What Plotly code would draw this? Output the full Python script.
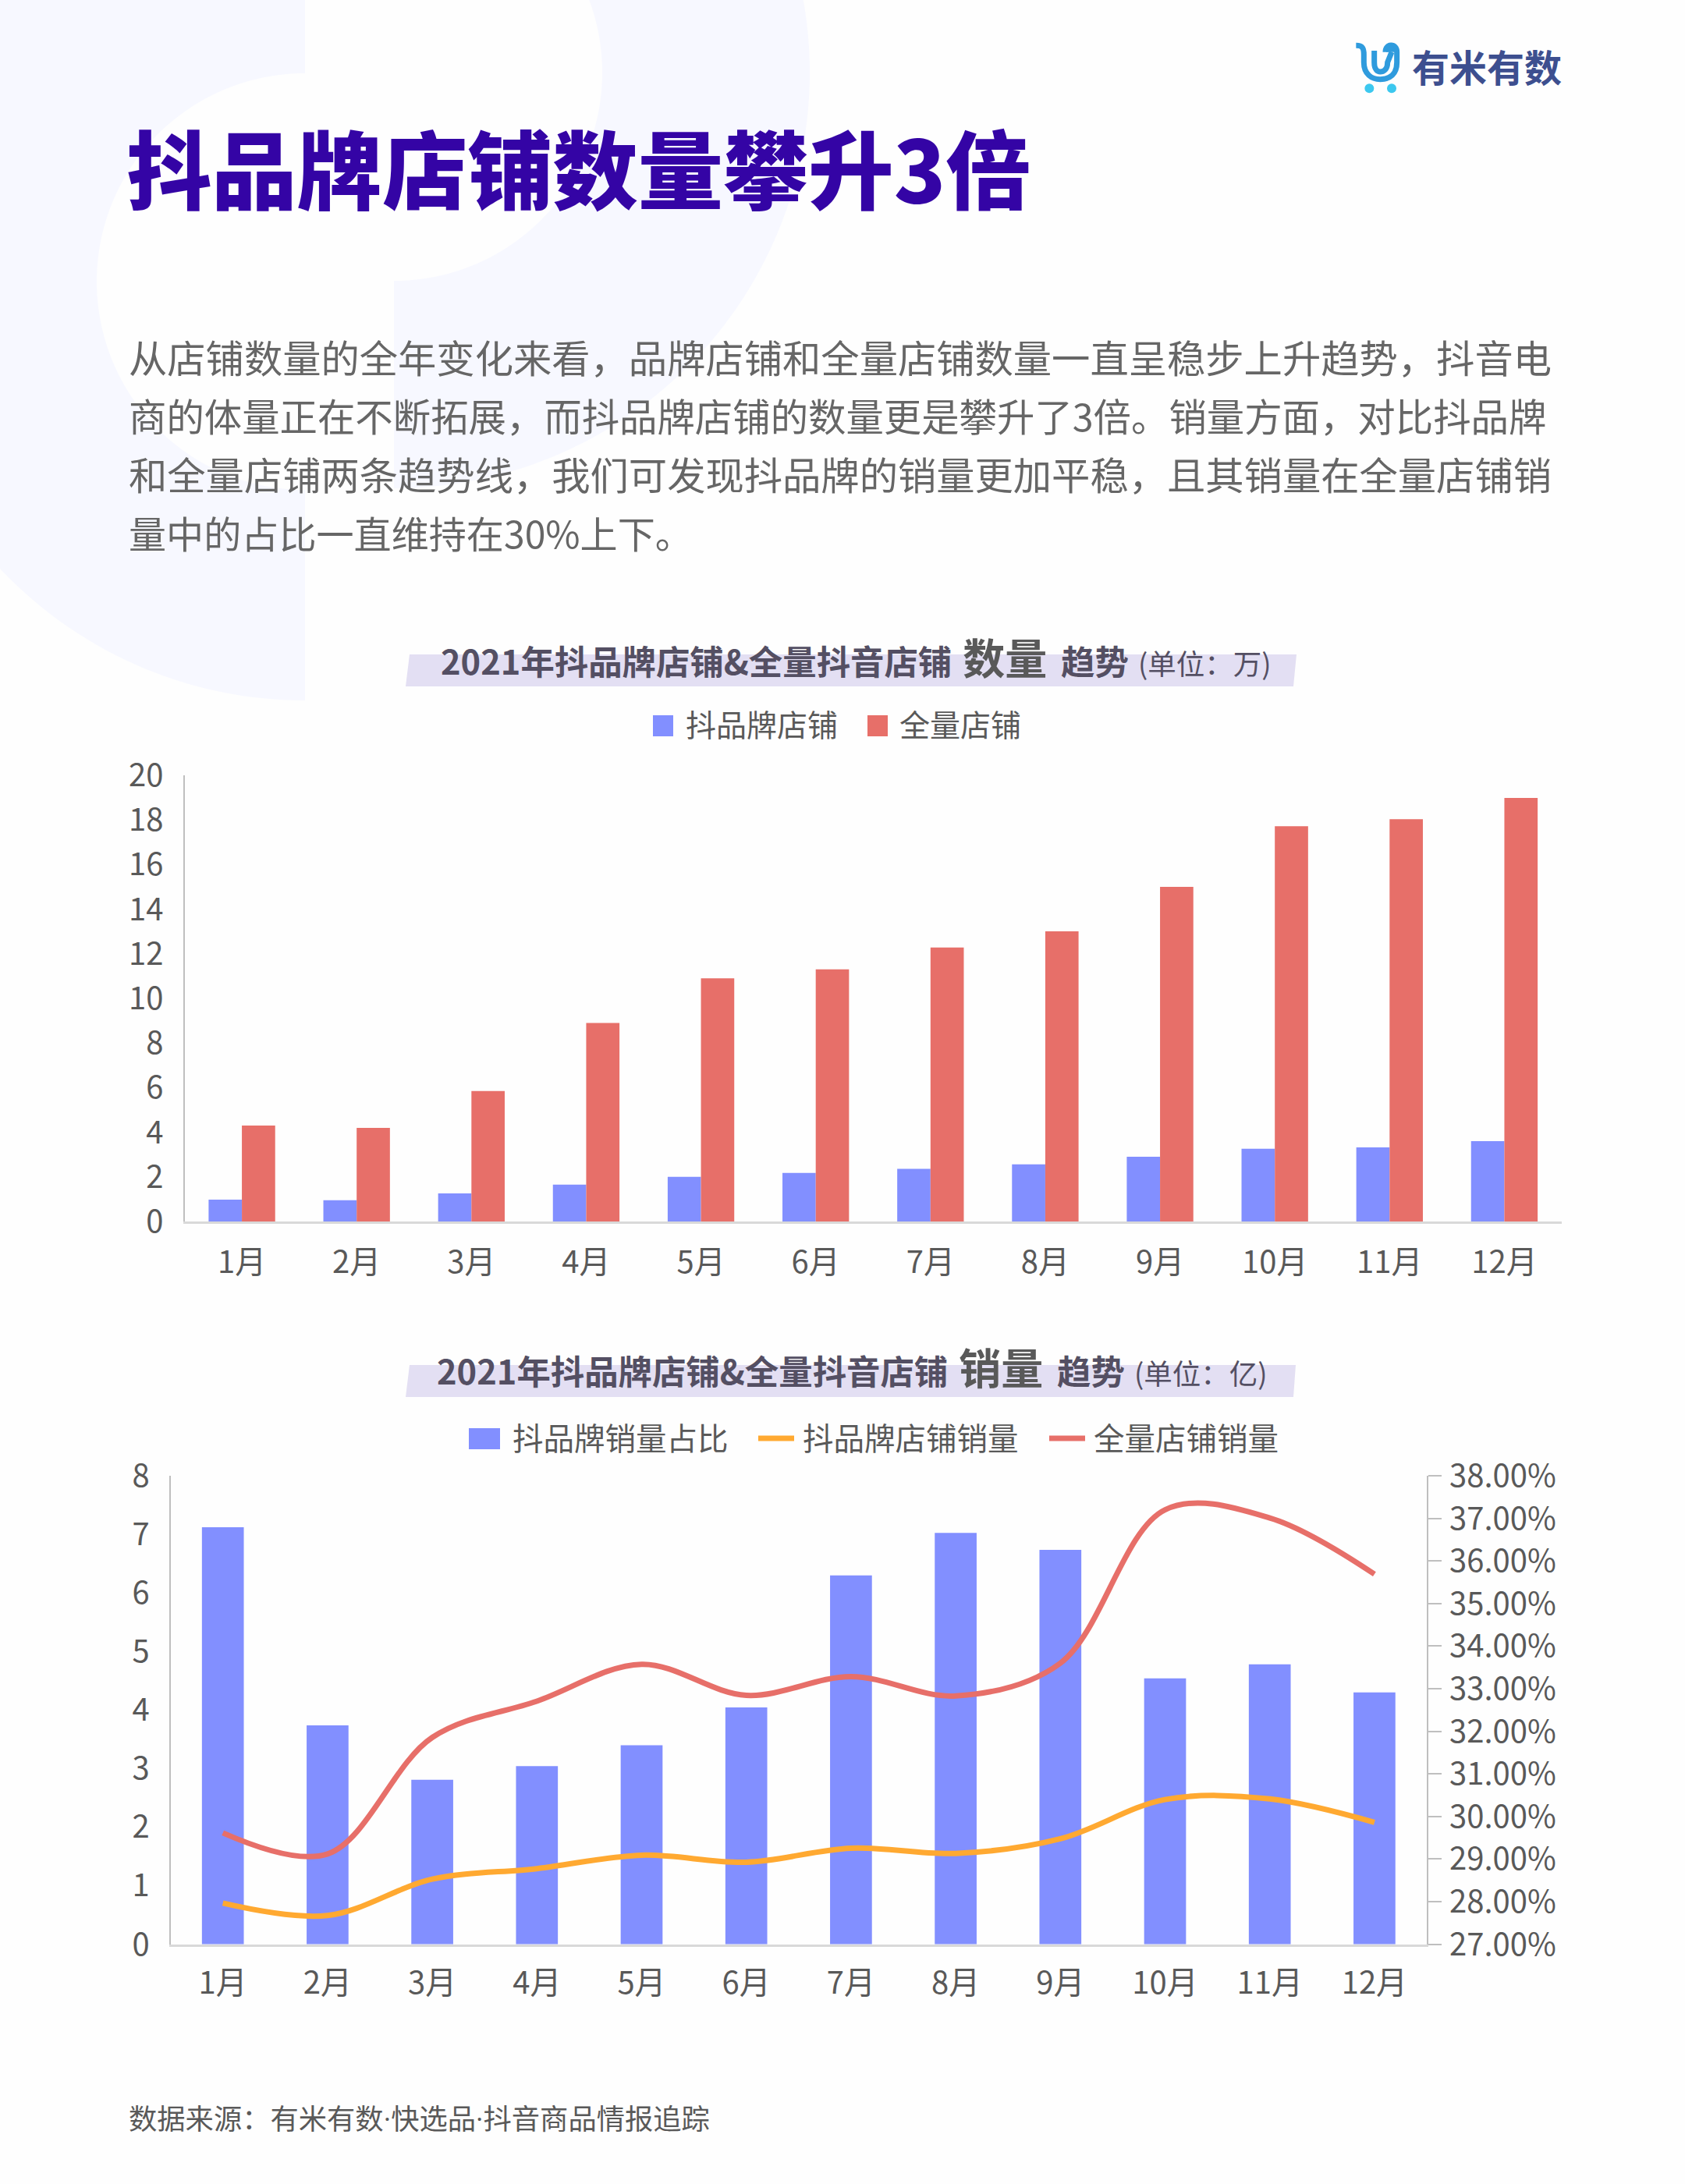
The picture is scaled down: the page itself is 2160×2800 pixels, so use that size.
"""抖品牌店铺数量 & 销量趋势 page."""

import math

import plotly.graph_objects as go

W = 2160
H = 2800
FONT = "Noto Sans CJK SC"

months = ["1月", "2月", "3月", "4月", "5月", "6月", "7月", "8月", "9月", "10月", "11月", "12月"]

# chart 1, 单位: 万
brand_shops = [0.98, 0.95, 1.26, 1.65, 2.0, 2.18, 2.36, 2.56, 2.9, 3.26, 3.32, 3.6]
all_shops = [4.3, 4.2, 5.85, 8.9, 10.9, 11.3, 12.28, 13.01, 15.0, 17.72, 18.03, 18.99]

# chart 2, 单位: 亿 / %
brand_share = [36.79, 32.14, 30.86, 31.18, 31.67, 32.56, 35.66, 36.66, 36.26, 33.24, 33.57, 32.91]
brand_sales = [0.70, 0.49, 1.11, 1.29, 1.52, 1.40, 1.64, 1.55, 1.80, 2.47, 2.48, 2.08]
all_sales = [1.90, 1.54, 3.53, 4.15, 4.78, 4.25, 4.57, 4.24, 4.80, 7.42, 7.28, 6.32]

title = "抖品牌店铺数量攀升3倍"
body_lines = [
    "从店铺数量的全年变化来看，品牌店铺和全量店铺数量一直呈稳步上升趋势，抖音电",
    "商的体量正在不断拓展，而抖品牌店铺的数量更是攀升了3倍。销量方面，对比抖品牌",
    "和全量店铺两条趋势线，我们可发现抖品牌的销量更加平稳，且其销量在全量店铺销",
    "量中的占比一直维持在30%上下。",
]
source = '数据来源：有米有数<span style="font-family:Roboto">·</span>快选品<span style="font-family:Roboto">·</span>抖音商品情报追踪'

BLUE = "#828fff"
RED = "#e76f69"
ORANGE = "#ffa931"
TEXT = "#595959"
LAVENDER = "#f7f8ff"
BAND = "#e3dff3"


# everything outside the plots is placed in page pixels
def px(x):
    return x / W


def py(y):
    return 1 - y / H


def ring(cx, cy, r_in, r_out, a0, a1, n=120):
    # polygon for a piece of an annulus, angles in degrees
    angles = [math.radians(a0 + (a1 - a0) * i / n) for i in range(n + 1)]
    pts = [(cx + r_out * math.cos(a), cy + r_out * math.sin(a)) for a in angles]
    pts += [(cx + r_in * math.cos(a), cy + r_in * math.sin(a)) for a in reversed(angles)]
    return "M" + " L".join(f"{px(x):.5f},{py(y):.5f}" for x, y in pts) + " Z"


def poly(points):
    return "M" + " L".join(f"{px(x):.5f},{py(y):.5f}" for x, y in points) + " Z"


def logo_path(d):
    # d is a list of commands in zoomed logo coordinates
    out = []
    for cmd, *pts in d:
        out.append(cmd + " ".join(f"{px(1680 + x / 3):.5f},{py(30 + y / 3):.5f}" for x, y in pts))
    return " ".join(out)


def label(text, x, y, size, color=TEXT, anchor="left", **font_kw):
    return dict(
        text=text, x=px(x), y=py(y), xref="paper", yref="paper", showarrow=False,
        xanchor=anchor, yanchor="middle", align=anchor,
        font=dict(family=FONT, size=size, color=color, **font_kw),
    )


def chart_title(word, unit, x, y):
    # gaps between the parts are wider than one plain space
    text = (
        f'<b>2021年抖品牌店铺&全量抖音店铺<span style="font-size:62px">&nbsp;</span>'
        f'<span style="font-size:54px;color:#595959">{word}</span>'
        f'<span style="font-size:78px">&nbsp;</span>趋势</b>'
        f'<span style="font-size:54px">&nbsp;</span>'
        f'<span style="font-size:36.5px;font-weight:400">(单位：{unit})</span>'
    )
    return label(text, x, y, 43.4, color="#544f63", anchor="center")


fig = go.Figure()

fig.add_trace(go.Bar(x=months, y=brand_shops, name="抖品牌店铺", marker_color=BLUE, xaxis="x", yaxis="y"))
fig.add_trace(go.Bar(x=months, y=all_shops, name="全量店铺", marker_color=RED, xaxis="x", yaxis="y"))

# bars sit on the base subplot so the overlaying lines stay on top of them
fig.add_trace(go.Bar(x=months, y=brand_share, name="抖品牌销量占比", marker_color=BLUE, width=0.4,
                     xaxis="x2", yaxis="y2"))
fig.add_trace(go.Scatter(x=months, y=brand_sales, name="抖品牌店铺销量", mode="lines",
                         line=dict(color=ORANGE, width=7, shape="spline", smoothing=1.0),
                         xaxis="x2", yaxis="y3"))
fig.add_trace(go.Scatter(x=months, y=all_sales, name="全量店铺销量", mode="lines",
                         line=dict(color=RED, width=7, shape="spline", smoothing=1.0),
                         xaxis="x2", yaxis="y3"))

tick_font = dict(family=FONT, size=40, color=TEXT)

shapes = [
    # page decoration
    dict(type="path", path=ring(391, 361, 267, 537, 90, 270), xref="paper", yref="paper",
         fillcolor=LAVENDER, line_width=0, layer="below"),
    dict(type="path", path=ring(505, 93, 267, 533, -90, 90), xref="paper", yref="paper",
         fillcolor=LAVENDER, line_width=0, layer="below"),
    # bands behind the chart titles
    dict(type="path", path=poly([(525, 839), (1662, 839), (1658, 880), (520, 880)]), xref="paper", yref="paper",
         fillcolor=BAND, line_width=0, layer="below"),
    dict(type="path", path=poly([(525, 1750), (1661, 1750), (1658, 1791), (520, 1791)]), xref="paper", yref="paper",
         fillcolor=BAND, line_width=0, layer="below"),
    # legend swatches
    dict(type="rect", x0=px(837), x1=px(863), y0=py(917), y1=py(944), xref="paper", yref="paper",
         fillcolor=BLUE, line_width=0),
    dict(type="rect", x0=px(1112), x1=px(1138), y0=py(917), y1=py(944), xref="paper", yref="paper",
         fillcolor=RED, line_width=0),
    dict(type="rect", x0=px(601), x1=px(641), y0=py(1831), y1=py(1858), xref="paper", yref="paper",
         fillcolor=BLUE, line_width=0),
    dict(type="line", x0=px(972), x1=px(1018), y0=py(1844), y1=py(1844), xref="paper", yref="paper",
         line=dict(color=ORANGE, width=7)),
    dict(type="line", x0=px(1345), x1=px(1391), y0=py(1844), y1=py(1844), xref="paper", yref="paper",
         line=dict(color=RED, width=7)),
    # logo
    dict(type="path", xref="paper", yref="paper", line=dict(color="#2f9bdd", width=7),
         path=logo_path([("M", (175, 85)), ("C", (200, 85), (205, 95), (205, 120)), ("L", (205, 150)),
                         ("C", (205, 195), (235, 215), (268, 215)), ("C", (305, 215), (332, 195), (332, 150)),
                         ("L", (332, 110)), ("C", (332, 75), (288, 75), (288, 110))])),
    dict(type="path", xref="paper", yref="paper", line=dict(color="#2f9bdd", width=7),
         path=logo_path([("M", (245, 105)), ("L", (245, 150)), ("C", (245, 178), (258, 186), (268, 186)),
                         ("C", (280, 186), (296, 178), (296, 150)), ("L", (312, 110))])),
    dict(type="path", xref="paper", yref="paper", fillcolor="#2f9bdd", line_width=0,
         path=logo_path([("M", (312, 82)), ("L", (335, 110)), ("L", (290, 110)), ("Z",)])),
    dict(type="circle", x0=px(1680 + 208 / 3), x1=px(1680 + 244 / 3), y0=py(30 + 232 / 3), y1=py(30 + 268 / 3),
         xref="paper", yref="paper", fillcolor="#3cc8ef", line_width=0),
    dict(type="circle", x0=px(1680 + 294 / 3), x1=px(1680 + 330 / 3), y0=py(30 + 232 / 3), y1=py(30 + 268 / 3),
         xref="paper", yref="paper", fillcolor="#3cc8ef", line_width=0),
]

annotations = [
    label(title, 160, 212, 109.3, color="#3404a5", weight=900),
    label("有米有数", 1808, 84, 48, color="#3d4f8f", weight=700),
    chart_title("数量", "万", 1097, 831),
    chart_title("销量", "亿", 1092, 1741),
    label("抖品牌店铺", 877, 927, 39),
    label("全量店铺", 1151, 927, 39),
    label("抖品牌销量占比", 655, 1842, 39.5),
    label("抖品牌店铺销量", 1027, 1842, 39.5),
    label("全量店铺销量", 1400, 1842, 39.5),
    label(source, 163, 2714, 36.3),
]
for line, y, size in zip(body_lines, [456.5, 531.5, 606.5, 681.5], [49.3, 48.4, 49.3, 48.1]):
    annotations.append(label(line, 163, y, size, color="#666666"))

fig.update_layout(
    template=None,
    width=W,
    height=H,
    autosize=False,
    margin=dict(l=0, r=0, t=0, b=0, pad=0, autoexpand=False),
    paper_bgcolor="#fefefe",
    plot_bgcolor="rgba(0,0,0,0)",
    showlegend=False,
    barmode="group",
    bargap=0.42,
    bargroupgap=0,
    shapes=shapes,
    annotations=annotations,
    xaxis=dict(
        domain=[px(236.5), px(2002)], anchor="y", type="category", tickfont=tick_font, automargin=False,
        showline=True, linecolor="#d9d9d9", linewidth=3, showgrid=False, ticks="", ticklabelstandoff=15,
    ),
    yaxis=dict(
        domain=[py(1566), py(994)], anchor="x", range=[0, 20], dtick=2, tickfont=tick_font, automargin=False,
        showline=True, linecolor="#bfbfbf", linewidth=2, showgrid=False, zeroline=False,
        ticks="", ticklabelstandoff=17,
    ),
    xaxis2=dict(
        domain=[px(218.6), px(1829)], anchor="y2", type="category", tickfont=tick_font, automargin=False,
        showline=True, linecolor="#d9d9d9", linewidth=3, showgrid=False, ticks="", ticklabelstandoff=12,
    ),
    yaxis2=dict(
        domain=[py(2492.5), py(1892)], anchor="x2", side="right", range=[27, 38], dtick=1,
        tickformat=".2f", ticksuffix="%", tickfont=tick_font, automargin=False,
        showline=True, linecolor="#bfbfbf", linewidth=2, showgrid=False, zeroline=False,
        ticks="outside", ticklen=17, tickwidth=2, tickcolor="#bfbfbf", ticklabelstandoff=2,
    ),
    yaxis3=dict(
        domain=[py(2492.5), py(1892)], anchor="x2", overlaying="y2", side="left", range=[0, 8], dtick=1,
        tickfont=tick_font, automargin=False, showline=True, linecolor="#bfbfbf", linewidth=2,
        showgrid=False, zeroline=False, ticks="", ticklabelstandoff=17,
    ),
)

fig.write_html("out.html", config={"displayModeBar": False}, post_script="document.body.style.margin='0';")
